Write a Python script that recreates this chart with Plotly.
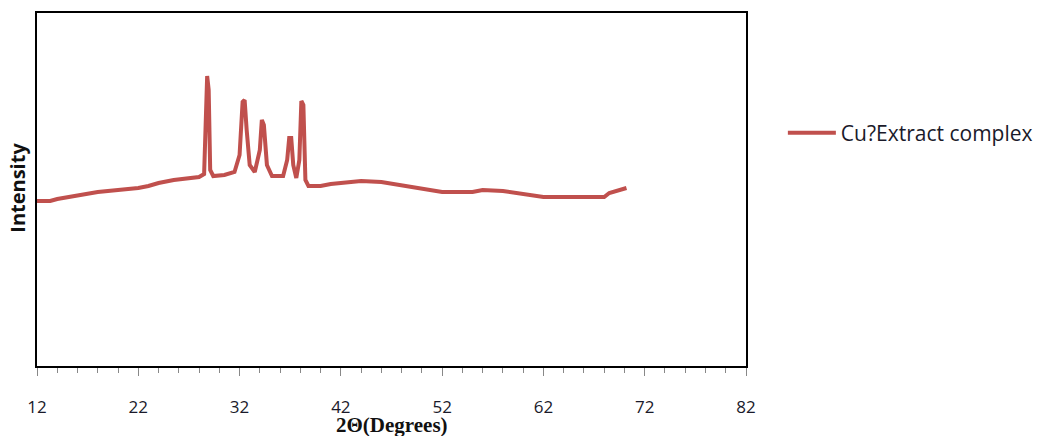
import plotly.graph_objects as go

two_theta = [12.0, 13.3, 14.0, 16.0, 18.0, 20.0, 22.0, 23.0, 24.0, 25.5, 27.0, 28.0, 28.5, 28.65, 28.8, 28.95,
             29.1, 29.4, 30.5, 31.5, 32.0, 32.3, 32.5, 32.7, 33.0, 33.5, 34.0, 34.2, 34.4, 34.7, 35.2, 36.3,
             36.7, 36.9, 37.1, 37.3, 37.6, 37.9, 38.1, 38.3, 38.5, 38.8, 40.0, 41.0, 42.0, 44.0, 46.0, 48.0,
             50.0, 51.5, 52.0, 55.0, 56.0, 58.0, 60.0, 62.0, 65.0, 68.0, 68.5, 69.5, 70.2]
intensity_px = [201, 201, 199, 195, 192, 190, 188, 186, 183, 180, 178, 177, 174, 110, 76, 90,
                170, 176, 175, 172, 155, 102, 100, 130, 165, 172, 150, 120, 125, 165, 176, 176,
                160, 138, 138, 165, 178, 160, 101, 105, 180, 186, 186, 184, 183, 181, 182, 185,
                188, 191, 192, 192, 190, 191, 194, 197, 197, 197, 193, 190, 188]
# convert read values to arbitrary intensity units (0..1000 scale)
intensity = [round((366 - p) * 1000 / 353, 1) for p in intensity_px]

x_ticks = [12, 22, 32, 42, 52, 62, 72, 82]
series_name = "Cu?Extract complex"

fig = go.Figure()
fig.add_trace(go.Scatter(x=two_theta, y=intensity, mode="lines", name=series_name,
                         line=dict(color="#C0504D", width=4), showlegend=True))

fig.update_layout(
    width=1044, height=436,
    margin=dict(l=37, r=298, t=13, b=70, autoexpand=False),
    paper_bgcolor="white", plot_bgcolor="white",
    font=dict(family="Open Sans, Liberation Sans, sans-serif", color="#222"),
    legend=dict(x=1.052, y=0.66, xanchor="left", yanchor="middle", itemwidth=48,
                font=dict(size=21, family="Open Sans, sans-serif", color="#1a1a2a"),
                bgcolor="rgba(0,0,0,0)"),
    xaxis=dict(range=[12, 82], tickvals=x_ticks, ticktext=[str(t) for t in x_ticks],
               showgrid=False, zeroline=False, showline=True, linecolor="black", linewidth=2,
               mirror=True, ticks="outside", ticklen=8, tickcolor="#888", tickwidth=1,
               minor=dict(dtick=2, ticks="outside", ticklen=5, tickcolor="#888"),
               ticklabelstandoff=17, tickfont=dict(size=17, family="Open Sans, sans-serif", color="#1a1a2a")),
    yaxis=dict(range=[0, 1000], showticklabels=False, showgrid=False, zeroline=False,
               showline=True, linecolor="black", linewidth=2, mirror=True, ticks=""),
    annotations=[
        dict(text="<b>2Θ(Degrees)</b>", xref="paper", yref="paper", x=0.5, y=0, yshift=-59,
             xanchor="center", yanchor="middle", showarrow=False,
             font=dict(size=21, family="Liberation Serif, serif", color="#111")),
        dict(text="<b>Intensity</b>", xref="paper", yref="paper", x=0, y=0.505, xshift=-19,
             xanchor="center", yanchor="middle", textangle=-90, showarrow=False,
             font=dict(size=20, family="Open Sans, sans-serif", color="#111")),
    ],
)

fig.write_html("out.html")
